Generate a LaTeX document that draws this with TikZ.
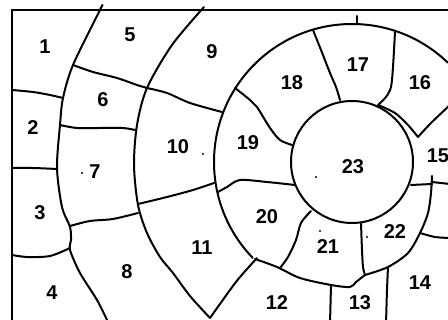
\documentclass[tikz,border=0pt]{standalone}
\usepackage{fontspec}
\setmainfont{Liberation Sans}[BoldFont={Liberation Sans Bold}]
\begin{document}
\begin{tikzpicture}[x=1pt, y=-1pt,
    marco/.style={line width=2.8pt},
    linea/.style={line width=2pt, line join=round, line cap=round},
    numero/.style={font=\fontsize{20}{20}\selectfont\bfseries, inner sep=0pt},
    mota/.style={fill=black}
  ]
  \useasboundingbox (0,0) rectangle (448,320);
  \clip (0,0) rectangle (448,320);

  % --- marco ---
  \draw[marco] (452,10) -- (12,10) -- (12,324);

  % --- anillos ---
  \coordinate (centro) at (352,162);
  \draw[linea] (centro) circle[radius=61];
  \draw[linea] (centro) ++(-46:138) arc[start angle=-46, end angle=-224, radius=138];
  \draw[linea] plot[smooth] coordinates {(255,259) (277,267) (300,278) (331,285) (350,287) (356,282) (365,275)};
  \draw[linea] plot[smooth] coordinates {(204,7) (172,45) (147,88) (137,125) (134,165) (138,205) (147,233) (160,257) (173,273) (190,296) (210,318)};
  \draw[linea] plot[smooth] coordinates {(102,6) (100,10) (73,65) (63,98) (60,125) (57,168) (62,207) (70,227) (71,240) (70,250) (80,273) (97,300) (108,322)};

  % --- anillo exterior (1-4) ---
  \draw[linea] plot[smooth] coordinates {(12,90) (33,92) (50,95) (63,98)};
  \draw[linea] plot[smooth] coordinates {(12,168) (33,168) (57,169)};
  \draw[linea] plot[smooth] coordinates {(12,255) (27,257) (50,256) (70,248)};

  % --- segundo anillo (5-8) ---
  \draw[linea] plot[smooth] coordinates {(73,65) (93,72) (117,78) (137,85) (147,88)};
  \draw[linea] plot[smooth] coordinates {(60,125) (77,128) (100,128) (123,128) (135,130)};
  \draw[linea] plot[smooth] coordinates {(70,226) (90,221) (113,219) (138,213)};

  % --- tercer anillo (9-12) ---
  \draw[linea] plot[smooth] coordinates {(147,88) (167,93) (190,103) (222,112)};
  \draw[linea] plot[smooth] coordinates {(138,204) (167,197) (193,190) (214,183)};
  \draw[linea] plot[smooth] coordinates {(210,318) (230,290) (240,277) (257,258)};
  \draw[linea] (331,285) -- (330,324);
  \draw[linea] plot[smooth] coordinates {(388,267) (387,290) (386,324)};

  % --- anillo interior (15-22) ---
  \draw[linea] (357,16) -- (357,24);
  \draw[linea] plot[smooth] coordinates {(313,30) (321,50) (330,73) (336,87) (340,100)};
  \draw[linea] plot[smooth] coordinates {(395,32) (393,67) (391,87) (386,97) (378,105)};
  \draw[linea] plot[smooth] coordinates {(378,105) (395,113) (408,125) (418,137)};
  \draw[linea] plot[smooth] coordinates {(418,137) (431,123) (450,105)};
  \draw[linea] plot[smooth] coordinates {(235,88) (250,100) (257,107) (270,128) (280,140) (292,145)};
  \draw[linea] plot[smooth] coordinates {(218,192) (227,187) (240,180) (267,182) (295,185)};
  \draw[linea] plot[smooth] coordinates {(311,211) (301,223) (296,240) (288,257) (280,268)};
  \draw[linea] plot[smooth] coordinates {(361,223) (362,250) (363,267) (365,275)};
  \draw[linea] plot[smooth] coordinates {(365,275) (388,267) (408,253) (420,233) (428,213) (431,193) (432,176)};
  \draw[linea] (411,185) -- (432,184);
  \draw[linea] (432,182) -- (450,184);
  \draw[linea] plot[smooth] coordinates {(420,233) (435,237) (450,238)};

  % --- motas ---
  \fill[mota] (203,154) circle[radius=1.1];
  \fill[mota] (82,173) circle[radius=1.1];
  \fill[mota] (316,177) circle[radius=1.1];
  \fill[mota] (320,231) circle[radius=1.1];
  \fill[mota] (367,237) circle[radius=1.1];

  % --- numeros ---
  \node[numero] (s1) at (45,47) {1};
  \node[numero] (s2) at (33,128) {2};
  \node[numero] (s3) at (40,213) {3};
  \node[numero] (s4) at (52,293) {4};
  \node[numero] (s5) at (130,35) {5};
  \node[numero] (s6) at (103,100) {6};
  \node[numero] (s7) at (95,172) {7};
  \node[numero] (s8) at (127,272) {8};
  \node[numero] (s9) at (212,52) {9};
  \node[numero] (s10) at (178,147) {10};
  \node[numero] (s11) at (202,248) {11};
  \node[numero] (s12) at (277,303) {12};
  \node[numero] (s13) at (360,303) {13};
  \node[numero] (s14) at (420,283) {14};
  \node[numero] (s15) at (438,156) {15};
  \node[numero] (s16) at (420,83) {16};
  \node[numero] (s17) at (358,65) {17};
  \node[numero] (s18) at (292,83) {18};
  \node[numero] (s19) at (248,143) {19};
  \node[numero] (s20) at (267,217) {20};
  \node[numero] (s21) at (328,247) {21};
  \node[numero] (s22) at (395,232) {22};
  \node[numero] (s23) at (353,167) {23};
\end{tikzpicture}
\end{document}
